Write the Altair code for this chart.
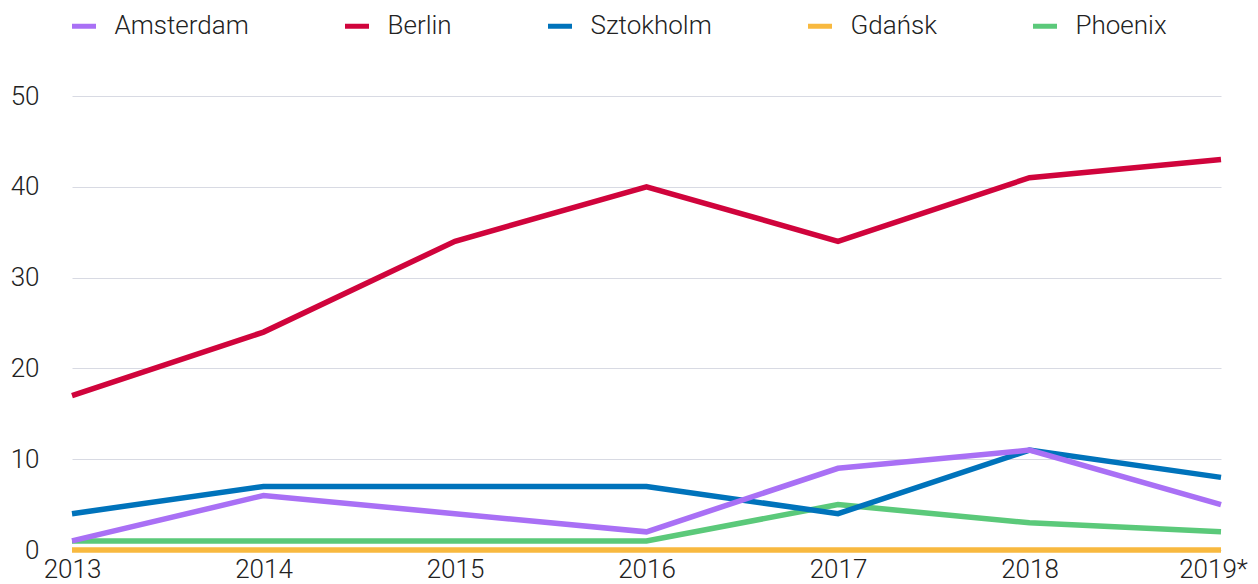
import altair as alt
import pandas as pd

years = ["2013", "2014", "2015", "2016", "2017", "2018", "2019*"]
cities = ["Amsterdam", "Berlin", "Sztokholm", "Gdańsk", "Phoenix"]
colors = ["#a970f5", "#d0043c", "#0073bb", "#f8b93f", "#5bc97a"]

amsterdam = [1, 6, 4, 2, 9, 11, 5]
berlin = [17, 24, 34, 40, 34, 41, 43]
sztokholm = [4, 7, 7, 7, 4, 11, 8]
gdansk = [0, 0, 0, 0, 0, 0, 0]
phoenix = [1, 1, 1, 1, 5, 3, 2]

series = {
    "Amsterdam": amsterdam,
    "Berlin": berlin,
    "Sztokholm": sztokholm,
    "Gdańsk": gdansk,
    "Phoenix": phoenix,
}

rows = []
for city, vals in series.items():
    for y, v in zip(years, vals):
        rows.append({"year": y, "city": city, "value": v})
df = pd.DataFrame(rows)

FONT = "Roboto"

x = alt.X("year:O", sort=years, title=None,
          scale=alt.Scale(padding=0),
          axis=alt.Axis(labelAngle=0, labelFontSize=26, labelFont=FONT,
                        labelFontWeight=300, labelColor="#222222",
                        domain=False, ticks=False, labelPadding=27,
                        labelBaseline="alphabetic",
                        labelOffset={"condition": {"test": "datum.value === '2019*'", "value": -8},
                                     "value": 0}))
y = alt.Y("value:Q", title=None,
          scale=alt.Scale(domain=[0, 50], nice=False),
          axis=alt.Axis(values=[0, 10, 20, 30, 40, 50], labelFontSize=26,
                        labelFont=FONT, labelFontWeight=300, labelColor="#222222",
                        domain=False, ticks=False, labelPadding=33,
                        grid=True, gridColor="#d8dae3", gridWidth=1))
color = alt.Color("city:N", title=None,
                  scale=alt.Scale(domain=cities, range=colors),
                  sort=cities,
                  legend=alt.Legend(orient="none", direction="horizontal",
                                    legendX=-2.5, legendY=-84.5,
                                    symbolType="stroke", symbolSize=576,
                                    symbolStrokeWidth=5, labelFontSize=26,
                                    labelFont=FONT, labelFontWeight=300,
                                    labelColor="#222222", labelOffset=16,
                                    columnPadding=85, padding=0,
                                    labelLimit=400))

draw_order = ["Gdańsk", "Phoenix", "Sztokholm", "Berlin", "Amsterdam"]
layers = []
for c in draw_order:
    layers.append(
        alt.Chart(df).transform_filter(alt.datum.city == c)
        .mark_line(strokeWidth=5.5, strokeCap="butt", strokeJoin="miter")
        .encode(x=x, y=y, color=color)
    )

chart = alt.layer(*layers).properties(
    width=1149, height=454,
    padding={"left": 64, "top": 88, "right": 29, "bottom": 34},
    autosize="none",
).configure_view(stroke=None)

chart.save("out.html", embed_options={"renderer": "svg", "actions": False})
